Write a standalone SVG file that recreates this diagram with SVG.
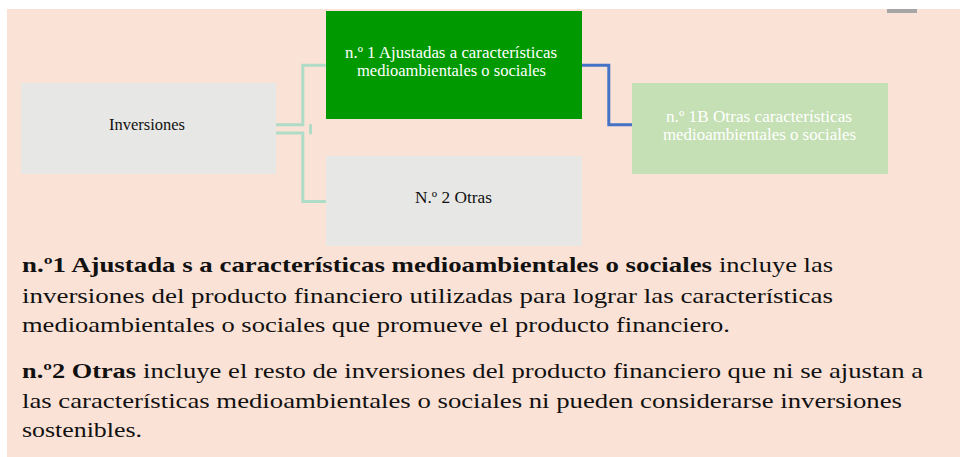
<svg xmlns="http://www.w3.org/2000/svg" width="960" height="457" viewBox="0 0 960 457">
  <style>
    .node-text { font-family: "Liberation Serif", "Times New Roman", serif; font-size: 16.5px; text-anchor: start; }
    .body { font-family: "Liberation Serif", "Times New Roman", serif; font-size: 22px; fill: #111111; }
    .bold { font-weight: bold; }
    .mint { fill: none; stroke: #afdcc6; stroke-width: 3; }
    .blue { fill: none; stroke: #4472c4; stroke-width: 3; }
  </style>
  <rect x="0" y="0" width="960" height="457" fill="#ffffff"/>
  <rect x="7" y="9" width="953" height="448" fill="#fbe2d6"/>
  <rect x="887" y="9" width="30" height="4" fill="#a6a6a6"/>

  <g id="connectors">
    <polyline class="mint" points="276,124.7 302.8,124.7 302.8,65.3 326,65.3"/>
    <polyline class="mint" points="276,133 302.8,133 302.8,201.5 326,201.5"/>
    <line class="mint" x1="310.5" y1="124.3" x2="310.5" y2="134.3"/>
    <polyline class="blue" points="582,65.2 608.8,65.2 608.8,124.7 632,124.7"/>
  </g>

  <g id="node-inversiones">
    <rect x="21" y="83" width="255" height="91" fill="#e7e7e5"/>
    <text class="node-text" x="109" y="130" fill="#111111" textLength="76" lengthAdjust="spacingAndGlyphs">Inversiones</text>
  </g>

  <g id="node-n1">
    <rect x="326" y="11" width="256" height="108" fill="#009a00"/>
    <text class="node-text" x="345" y="58.3" fill="#ffffff" textLength="212" lengthAdjust="spacingAndGlyphs">n.º 1 Ajustadas a características</text>
    <text class="node-text" x="357" y="75.7" fill="#ffffff" textLength="189" lengthAdjust="spacingAndGlyphs">medioambientales o sociales</text>
  </g>

  <g id="node-n1b">
    <rect x="632" y="83" width="256" height="91" fill="#c5e0b4"/>
    <text class="node-text" x="666" y="122" fill="#ffffff" textLength="186" lengthAdjust="spacingAndGlyphs">n.º 1B Otras características</text>
    <text class="node-text" x="663" y="140" fill="#ffffff" textLength="193" lengthAdjust="spacingAndGlyphs">medioambientales o sociales</text>
  </g>

  <g id="node-n2">
    <rect x="326" y="156" width="256" height="90" fill="#e7e7e5"/>
    <text class="node-text" x="415" y="203" fill="#111111" textLength="77" lengthAdjust="spacingAndGlyphs">N.º 2 Otras</text>
  </g>

  <g id="description">
    <text class="body bold" x="22" y="272" textLength="690" lengthAdjust="spacingAndGlyphs">n.º1 Ajustada s a características medioambientales o sociales</text>
    <text class="body" x="719" y="272" textLength="114" lengthAdjust="spacingAndGlyphs">incluye las</text>
    <text class="body" x="22" y="303" textLength="811" lengthAdjust="spacingAndGlyphs">inversiones del producto financiero utilizadas para lograr las características</text>
    <text class="body" x="22" y="332" textLength="708" lengthAdjust="spacingAndGlyphs">medioambientales o sociales que promueve el producto financiero.</text>
    <text class="body bold" x="22" y="378" textLength="114" lengthAdjust="spacingAndGlyphs">n.º2 Otras</text>
    <text class="body" x="143" y="378" textLength="780" lengthAdjust="spacingAndGlyphs">incluye el resto de inversiones del producto financiero que ni se ajustan a</text>
    <text class="body" x="22" y="408" textLength="880" lengthAdjust="spacingAndGlyphs">las características medioambientales o sociales ni pueden considerarse inversiones</text>
    <text class="body" x="22" y="437" textLength="120" lengthAdjust="spacingAndGlyphs">sostenibles.</text>
  </g>
</svg>
